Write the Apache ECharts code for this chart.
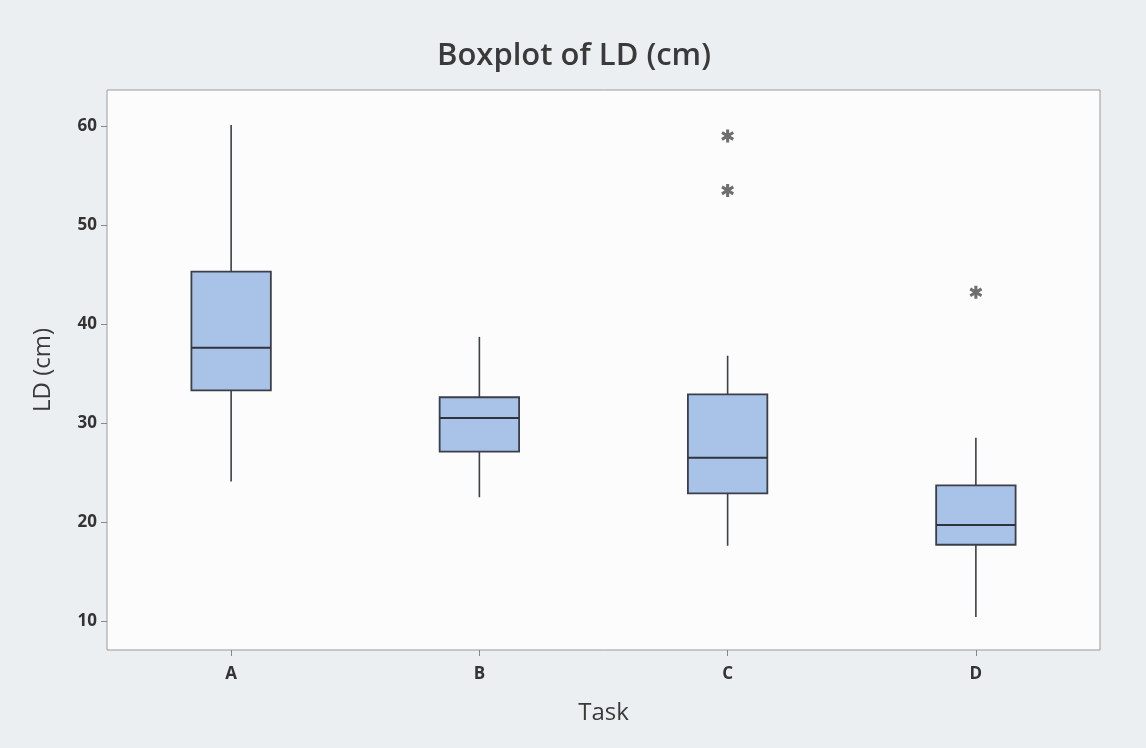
<!DOCTYPE html>
<html>
<head>
<meta charset="utf-8">
<script src="https://cdn.jsdelivr.net/npm/echarts@6/dist/echarts.min.js"></script>
<style>
html,body{margin:0;padding:0;background:#eceff2;}
#c{width:1146px;height:748px;}
</style>
</head>
<body>
<div id="c"></div>
<script>
// ---- data ----
const categories = ['A', 'B', 'C', 'D'];
const whiskerLow = [24.1, 22.5, 17.6, 10.4];
const q1Values   = [33.3, 27.1, 22.9, 17.7];
const medians    = [37.6, 30.5, 26.5, 19.7];
const q3Values   = [45.3, 32.6, 32.9, 23.7];
const whiskerHigh= [60.1, 38.7, 36.8, 28.5];
const outlierCats   = ['C', 'C', 'D'];
const outlierValues = [59.0, 53.5, 43.2];
const yTicks = [10, 20, 30, 40, 50, 60];

const boxData = categories.map((c, i) => [i, whiskerLow[i], q1Values[i], medians[i], q3Values[i], whiskerHigh[i]]);
const outlierData = outlierCats.map((c, i) => [c, outlierValues[i]]);

const asterisk = 'path://M-1.4,-6L1.4,-6L1.4,6L-1.4,6Z M4.5,-4.4L5.9,-1.9L-4.5,4.4L-5.9,1.9Z M-5.9,-1.9L-4.5,-4.4L5.9,1.9L4.5,4.4Z';

const chart = echarts.init(document.getElementById('c'), null, {renderer: 'canvas'});
const font = '"Open Sans", "Noto Sans", sans-serif';

chart.setOption({
  backgroundColor: '#eceff2',
  animation: false,
  title: {
    text: 'Boxplot of LD (cm)',
    left: 569, top: 36,
    textAlign: 'center',
    textStyle: {fontFamily: font, fontSize: 31, fontWeight: 600, color: '#3a3a3a'}
  },
  grid: {
    left: 107, right: 46, top: 90, bottom: 98,
    show: true, borderColor: '#9a9a9a', borderWidth: 1, backgroundColor: '#fcfcfc'
  },
  xAxis: {
    type: 'category',
    data: categories,
    boundaryGap: true,
    name: 'Task',
    nameLocation: 'middle',
    nameGap: 51,
    nameTextStyle: {fontFamily: font, fontSize: 24, color: '#3a3a3a'},
    axisLine: {show: false},
    axisTick: {show: true, alignWithLabel: true, length: 6, lineStyle: {color: '#888'}},
    axisLabel: {fontFamily: font, fontSize: 17, fontWeight: 'bold', color: '#333', margin: 16},
    splitLine: {show: false}
  },
  yAxis: {
    type: 'value',
    min: 7.07, max: 63.64,
    name: 'LD (cm)',
    nameLocation: 'middle',
    nameGap: 52,
    nameTextStyle: {fontFamily: font, fontSize: 24, color: '#3a3a3a'},
    axisLine: {show: false},
    axisTick: {show: true, length: 6, lineStyle: {color: '#888'}, customValues: yTicks},
    axisLabel: {fontFamily: font, fontSize: 17, fontWeight: 'bold', color: '#333', margin: 10, customValues: yTicks},
    splitLine: {show: false}
  },
  series: [
    {
      type: 'custom',
      data: boxData,
      encode: {x: 0, y: [1, 2, 3, 4, 5]},
      renderItem: function (params, api) {
        const idx = api.value(0);
        const pLow = api.coord([idx, api.value(1)]);
        const pQ1 = api.coord([idx, api.value(2)]);
        const pMed = api.coord([idx, api.value(3)]);
        const pQ3 = api.coord([idx, api.value(4)]);
        const pHigh = api.coord([idx, api.value(5)]);
        const half = api.size([1, 0])[0] * 0.16;
        const cx = pLow[0];
        const stroke = {stroke: '#3a3f48', lineWidth: 1.6};
        return {
          type: 'group',
          children: [
            {type: 'line', shape: {x1: cx, y1: pHigh[1], x2: cx, y2: pQ3[1]}, style: stroke},
            {type: 'line', shape: {x1: cx, y1: pQ1[1], x2: cx, y2: pLow[1]}, style: stroke},
            {type: 'rect', shape: {x: cx - half, y: pQ3[1], width: half * 2, height: pQ1[1] - pQ3[1]},
              style: {fill: '#a9c3e8', stroke: '#3a3f48', lineWidth: 1.8}},
            {type: 'line', shape: {x1: cx - half, y1: pMed[1], x2: cx + half, y2: pMed[1]},
              style: {stroke: '#2f343c', lineWidth: 2}}
          ]
        };
      }
    },
    {
      type: 'scatter',
      data: outlierData,
      symbol: asterisk,
      symbolSize: 13,
      symbolKeepAspect: true,
      itemStyle: {color: '#4a4a4a'}
    }
  ]
});
</script>
</body>
</html>
